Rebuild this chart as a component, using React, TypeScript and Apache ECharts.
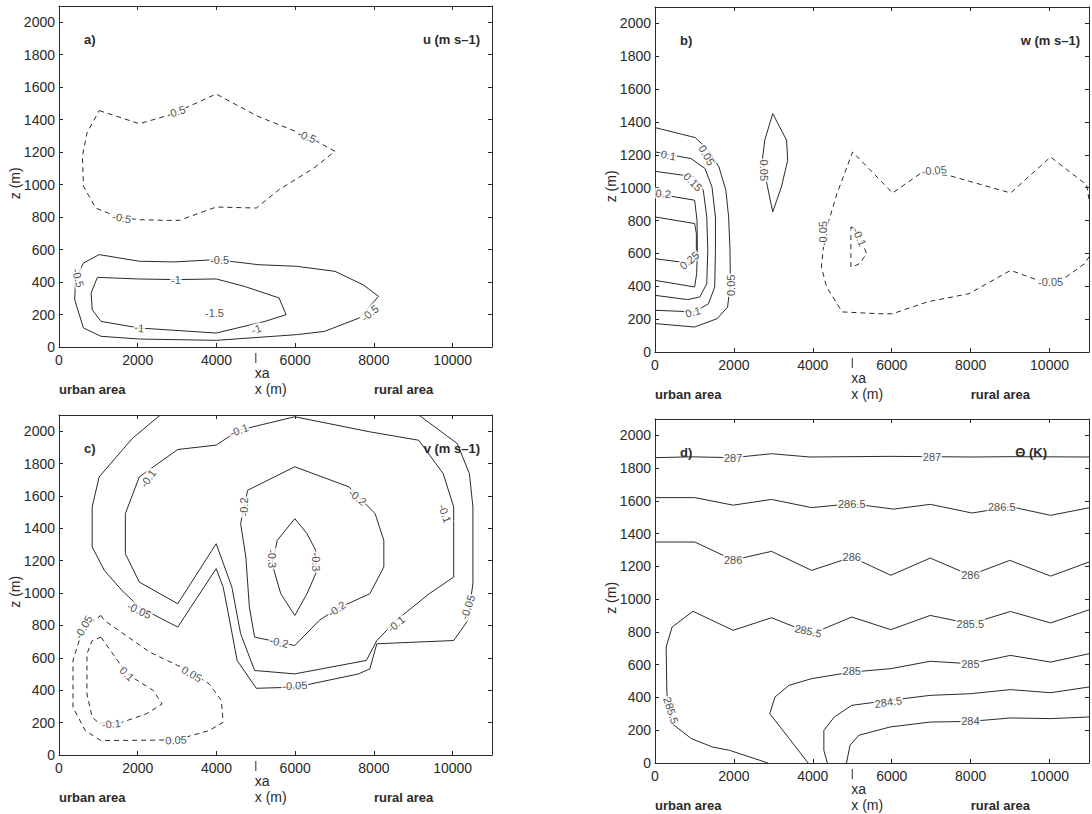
import React, { useEffect, useRef } from "react";
import * as echarts from "echarts";

type P = [number, number];
type L = [string, number, number, number];

const X_MAX = 11000;
const Z_MAX = 2100;
const X_STEP = 2000;
const Z_STEP = 200;
const XA = 5000;
const RURAL_X = 8000;
const Z_TITLE = "z (m)";

const PANEL_TAGS = ["a)", "b)", "c)", "d)"];
const PANEL_VARS = ["u (m s–1)", "w (m s–1)", "v (m s–1)", "Θ (K)"];

// ---------- a) u ----------
const A_DASH_05: P[] = [[1020,1456],[2041,1375],[2839,1431],[3993,1558],[5058,1420],[6300,1300],[7010,1205],[6477,1102],[5590,969],[5013,856],[3993,862],[3061,780],[2662,780],[2041,784],[1500,800],[932,856],[621,990],[595,1174],[710,1318],[1020,1456]];
const A_M05: P[] = [[1020,569],[2041,528],[2928,524],[3993,538],[5058,507],[6034,497],[7010,466],[7720,384],[8119,312],[7631,179],[6743,96],[6034,76],[3993,41],[2041,49],[1065,66],[621,117],[399,291],[421,420],[621,517],[1020,569]];
const A_M1: P[] = [[976,429],[2000,419],[2972,415],[3993,419],[4703,374],[5590,302],[5768,199],[5235,158],[3993,86],[2041,117],[1065,158],[843,230],[816,333],[976,429]];
const A_LABELS: L[] = [["0.5",3017,1452,18],["-0.5",6300,1297,-22],["-0.5",1597,795,-10],["-0.5",4082,538,0],["-0.5",488,425,-75],["-0.5",7897,209,40],["-1",2972,415,0],["-1",2041,117,-5],["-1",5013,111,20],["-1.5",3949,209,0]];

// ---------- b) w ----------
const B_005: P[] = [[0,1366],[1021,1305],[1356,1228],[1620,1127],[1796,985],[1866,822],[1901,619],[1910,416],[1840,274],[1576,203],[1004,152],[0,173]];
const B_01: P[] = [[0,1218],[915,1177],[1268,1117],[1444,1005],[1532,822],[1532,619],[1514,396],[1356,294],[1004,244],[0,254]];
const B_015: P[] = [[0,1100],[1004,1066],[1224,985],[1312,822],[1338,619],[1312,416],[1136,335],[827,319],[0,345]];
const B_02: P[] = [[0,964],[1004,924],[1065,802],[1074,619],[1056,477],[1004,396],[0,436]];
const B_025: P[] = [[0,822],[1004,782],[1048,721],[1048,599],[960,538],[0,568]];
const B_005_LENS: P[] = [[2984,1451],[3336,1289],[3363,1167],[3204,1005],[2984,853],[2852,1005],[2720,1167],[2782,1289],[2984,1451]];
const B_M005: P[] = [[11000,930],[10940,1017],[10026,1187],[9014,968],[7430,1076],[6725,1086],[6021,968],[5009,1218],[4613,964],[4305,721],[4217,518],[4349,396],[4745,244],[5669,233],[6021,233],[6901,305],[7958,355],[9014,497],[9718,436],[10423,457],[10900,540],[11000,580]];
const B_M01: P[] = [[4965,761],[5141,741],[5361,599],[5185,538],[5009,518],[4965,518],[4965,761]];
const B_LABELS: L[] = [["0.05",1312,1198,-60],["0.1",343,1198,-10],["0.15",960,1035,-45],["0.2",211,964,-5],["0.25",871,558,40],["0.05",1928,406,90],["0.1",960,244,15],["0.05",2764,1106,-90],["-0.05",7077,1106,5],["-0.05",4261,721,90],["-0.1",5185,700,-65],["-0.05",10026,426,0]];

// ---------- c) v ----------
const C_M005: P[] = [[2573,2100],[1863,1955],[1020,1718],[843,1532],[843,1285],[1153,1140],[1597,1017],[2041,913],[3017,790],[3993,1151],[4170,1037],[4303,872],[4525,584],[5013,412],[6002,419],[7600,500],[7897,532],[8074,687],[10027,707],[10382,829],[10515,1058],[10515,1532],[10426,1738],[10115,1924],[9139,2100]];
const C_M01: P[] = [[5990,2089],[7897,1996],[9139,1944],[9760,1738],[10027,1532],[10027,1099],[9405,996],[8563,831],[8075,707],[7808,584],[5989,501],[4969,522],[4614,749],[4392,1037],[3993,1305],[3017,934],[2041,1068],[1686,1243],[1686,1491],[2041,1718],[3017,1887],[3993,1914],[4570,2006],[5990,2089]];
const C_M02: P[] = [[5990,1780],[7365,1656],[8030,1491],[8252,1326],[8252,1161],[7897,996],[7054,903],[6610,831],[5990,676],[4969,728],[4836,913],[4747,1223],[4614,1429],[4792,1635],[5990,1780]];
const C_M03: P[] = [[5990,1460],[6300,1367],[6522,1264],[6522,1120],[6300,996],[5990,862],[5634,996],[5413,1182],[5546,1326],[5990,1460]];
const C_P005: P[] = [[1065,862],[1153,831],[2307,635],[3283,522],[3816,439],[4126,336],[4170,202],[3816,151],[2973,93],[1065,89],[665,151],[355,295],[355,584],[621,790],[1065,862]];
const C_P01: P[] = [[1065,728],[1730,501],[2396,398],[2618,315],[2218,254],[1597,202],[1020,196],[843,233],[710,377],[710,625],[843,707],[1065,728]];
const C_LABELS: L[] = [["-0.1",4570,2006,20],["-0.1",2263,1708,55],["-0.1",9805,1491,-70],["-0.05",10382,913,72],["-0.05",2041,893,-25],["-0.05",5990,429,3],["-0.1",8563,810,40],["-0.2",4703,1532,90],["-0.2",7587,1592,-40],["-0.2",7054,903,35],["-0.2",5590,697,-12],["-0.3",5413,1213,-90],["-0.3",6522,1192,-90],["-0.05",621,790,60],["0.1",1730,501,-45],["0.05",3372,501,-30],["-0.1",1331,192,5],["0.05",2973,93,3]];

// ---------- d) theta ----------
const D_287: P[] = [[0,1864],[920,1869],[1981,1864],[2953,1888],[3926,1868],[5959,1872],[7020,1870],[8037,1868],[9000,1870],[11000,1868]];
const D_2865: P[] = [[0,1620],[1008,1620],[1981,1574],[2953,1609],[3970,1559],[4987,1583],[6048,1550],[6976,1579],[8037,1526],[9009,1565],[10027,1512],[11000,1558]];
const D_286: P[] = [[0,1349],[1008,1349],[1981,1239],[2953,1292],[3970,1176],[4987,1257],[5977,1146],[6976,1251],[7993,1146],[8992,1237],[10027,1141],[11000,1227]];
const D_2855: P[] = [[11000,935],[10027,855],[9009,925],[7993,850],[6976,901],[5977,814],[4987,891],[3970,789],[2953,887],[1981,810],[964,926],[433,830],[283,708],[301,423],[433,240],[920,149],[1450,98],[1892,77],[2865,0]];
const D_285: P[] = [[11000,667],[10027,616],[9009,657],[7993,606],[6976,621],[5977,576],[4987,555],[3970,515],[3395,474],[3041,403],[2909,301],[3400,150],[3882,0]];
const D_2845: P[] = [[11000,464],[10027,429],[9009,448],[7993,423],[6976,413],[5959,383],[4987,352],[4545,281],[4280,199],[4280,77],[4368,0]];
const D_284: P[] = [[11000,281],[10027,271],[9009,275],[7993,254],[6976,250],[5959,220],[5164,169],[4943,108],[4854,0]];
const D_LABELS: L[] = [["287",1981,1864,0],["287",7020,1870,0],["286.5",4987,1583,0],["286.5",8789,1563,0],["286",1981,1239,0],["286",4987,1257,0],["286",7993,1146,0],["285.5",3882,806,-12],["285.5",7993,846,0],["285.5",407,321,-72],["285",4987,560,0],["285",7993,606,0],["284.5",5915,372,8],["284",7993,254,0]];

const PANELS = [
  { solid: [A_M05, A_M1], dashed: [A_DASH_05], labels: A_LABELS },
  { solid: [B_005, B_01, B_015, B_02, B_025, B_005_LENS], dashed: [B_M005, B_M01], labels: B_LABELS },
  { solid: [C_M005, C_M01, C_M02, C_M03], dashed: [C_P005, C_P01], labels: C_LABELS },
  { solid: [D_287, D_2865, D_286, D_2855, D_285, D_2845, D_284], dashed: [], labels: D_LABELS },
];

const GRID_BOXES = [
  { left: 59, top: 6, width: 433, height: 341 },
  { left: 655, top: 7, width: 435, height: 345 },
  { left: 59, top: 415, width: 433, height: 340 },
  { left: 655, top: 419, width: 435, height: 344 },
];
const VAR_RIGHT_PAD = [12, 10, 12, 43];

const FONT = "Liberation Sans, Arial, Helvetica, sans-serif";
const INK = "#2a2a2a";

export default function App() {
  const ref = useRef<HTMLDivElement>(null);
  useEffect(() => {
    document.body.style.margin = "0";
    const chart = echarts.init(ref.current!, null, { renderer: "svg" });
    const axisLine = { show: true, onZero: false, lineStyle: { color: INK, width: 1 } };
    const tick = { show: true, inside: true, length: 4, lineStyle: { color: INK, width: 1 } };
    const xAxis: any[] = [];
    const yAxis: any[] = [];
    const series: any[] = [];
    GRID_BOXES.forEach((_, i) => {
      xAxis.push({
        type: "value", gridIndex: i, position: "bottom", min: 0, max: X_MAX, interval: X_STEP,
        axisLine, axisTick: tick, splitLine: { show: false },
        axisLabel: { fontSize: 14, color: INK, margin: 6, fontFamily: FONT,
          formatter: (v: number) => (v % X_STEP === 0 ? String(v) : "") },
      });
      xAxis.push({
        type: "value", gridIndex: i, position: "top", min: 0, max: X_MAX, interval: X_STEP,
        axisLine, axisTick: tick, splitLine: { show: false }, axisLabel: { show: false },
      });
      yAxis.push({
        type: "value", gridIndex: i, position: "left", min: 0, max: Z_MAX, interval: Z_STEP,
        axisLine, axisTick: tick, splitLine: { show: false },
        axisLabel: { fontSize: 14, color: INK, margin: 4, fontFamily: FONT,
          formatter: (v: number) => (v % Z_STEP === 0 && v <= 2000 ? String(v) : "") },
      });
      yAxis.push({
        type: "value", gridIndex: i, position: "right", min: 0, max: Z_MAX, interval: Z_STEP,
        axisLine, axisTick: tick, splitLine: { show: false }, axisLabel: { show: false },
      });
      const p = PANELS[i];
      const mk = (data: P[], dashed: boolean) => ({
        type: "line", xAxisIndex: 2 * i, yAxisIndex: 2 * i, data, symbol: "none", showSymbol: false,
        silent: true, z: 2, clip: true,
        lineStyle: { color: INK, width: 1, type: dashed ? [5, 4] : "solid" },
      });
      p.solid.forEach((d) => series.push(mk(d, false)));
      p.dashed.forEach((d) => series.push(mk(d, true)));
      series.push({
        type: "scatter", xAxisIndex: 2 * i, yAxisIndex: 2 * i, symbolSize: 1, silent: true, z: 5,
        itemStyle: { color: "rgba(0,0,0,0)" },
        data: p.labels.map(([t, x, y, r]) => ({ name: t, value: [x, y], label: { rotate: r, color: "#222" } })),
        label: { show: true, position: "inside", formatter: "{b}", fontSize: 11, color: "#222",
          fontFamily: FONT, backgroundColor: "#fff", padding: [0, 1] },
      });
    });
    chart.setOption({
      animation: false,
      backgroundColor: "#fff",
      textStyle: { fontFamily: FONT },
      grid: GRID_BOXES.map((g) => ({ ...g, containLabel: false })),
      xAxis, yAxis, series,
    });
    const graphic: any[] = [];
    GRID_BOXES.forEach((g, i) => {
      const x0 = chart.convertToPixel({ xAxisIndex: 2 * i } as any, 0) as number;
      const xa = chart.convertToPixel({ xAxisIndex: 2 * i } as any, XA) as number;
      const xr = chart.convertToPixel({ xAxisIndex: 2 * i } as any, RURAL_X) as number;
      const y0 = chart.convertToPixel({ yAxisIndex: 2 * i } as any, 0) as number;
      const txt = (text: string, x: number, y: number, bold: boolean, align = "left", size = 13) => ({
        type: "text", x, y, silent: true,
        style: { text, fill: INK, fontSize: size, fontWeight: bold ? "bold" : "normal", fontFamily: FONT,
          align, verticalAlign: "middle" },
      });
      graphic.push({ type: "line", silent: true, shape: { x1: xa, y1: y0 + 6, x2: xa, y2: y0 + 16 },
        style: { stroke: INK, lineWidth: 1 } });
      graphic.push(txt("xa", xa - 1, y0 + 26, false, "left", 14));
      graphic.push(txt("x (m)", xa - 1, y0 + 42, false, "left", 14));
      graphic.push(txt("urban area", x0, y0 + 42, true, "left", 13));
      graphic.push(txt("rural area", xr, y0 + 42, true, "left", 13));
      graphic.push(txt(PANEL_TAGS[i], g.left + 25, g.top + 33, true, "left", 13));
      graphic.push(txt(PANEL_VARS[i], g.left + g.width - VAR_RIGHT_PAD[i], g.top + 33, true, "right", 13));
      graphic.push({ ...txt(Z_TITLE, g.left - 44, g.top + g.height * 0.52, false, "center", 14), rotation: Math.PI / 2 });
    });
    chart.setOption({ graphic });
    return () => chart.dispose();
  }, []);
  return <div ref={ref} style={{ width: 1092, height: 814, background: "#fff" }} />;
}
